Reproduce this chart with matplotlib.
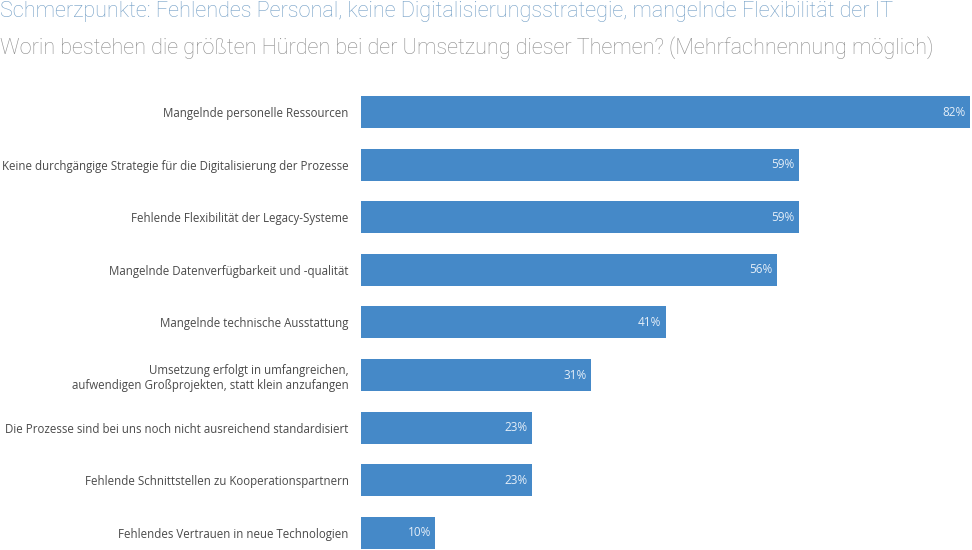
import matplotlib.pyplot as plt

categories = [
    "Mangelnde personelle Ressourcen",
    "Keine durchgängige Strategie für die Digitalisierung der Prozesse",
    "Fehlende Flexibilität der Legacy-Systeme",
    "Mangelnde Datenverfügbarkeit und -qualität",
    "Mangelnde technische Ausstattung",
    "Umsetzung erfolgt in umfangreichen,\naufwendigen Großprojekten, statt klein anzufangen",
    "Die Prozesse sind bei uns noch nicht ausreichend standardisiert",
    "Fehlende Schnittstellen zu Kooperationspartnern",
    "Fehlendes Vertrauen in neue Technologien",
]
values = [82, 59, 59, 56, 41, 31, 23, 23, 10]

title = "Schmerzpunkte: Fehlendes Personal, keine Digitalisierungsstrategie, mangelnde Flexibilität der IT"
subtitle = "Worin bestehen die größten Hürden bei der Umsetzung dieser Themen? (Mehrfachnennung möglich)"

W, H = 972, 550
fig = plt.figure(figsize=(W / 100, H / 100), dpi=100)
ax = fig.add_axes([361 / W, 0, (970 - 361) / W, (550 - 86) / H])

ypos = list(range(len(values)))
ax.barh(ypos, values, height=0.61, color="#4589c8")
ax.set_xlim(0, 82)
ax.set_ylim(8.33, -0.5)

for y, v in zip(ypos, values):
    ax.text(v - 0.6, y, f"{v}%", ha="right", va="center", color="#e4eef8",
            fontsize=8.5, family="Open Sans")

ax.set_yticks(ypos)
ax.set_yticklabels(categories, fontsize=8.3, color="#4a4a4a", family="Open Sans")
ax.tick_params(axis="y", length=0, pad=9)
ax.set_xticks([])
for s in ax.spines.values():
    s.set_visible(False)

fig.text(0, 1 - 12 / H, title, ha="left", va="center", fontsize=15.6,
         color="#739fc6", family="Roboto", fontweight="light")
fig.text(0, 1 - 48 / H, subtitle, ha="left", va="center", fontsize=15.6,
         color="#8c8c8c", family="Roboto", fontweight="light")

fig.savefig("out.png", dpi=100)
